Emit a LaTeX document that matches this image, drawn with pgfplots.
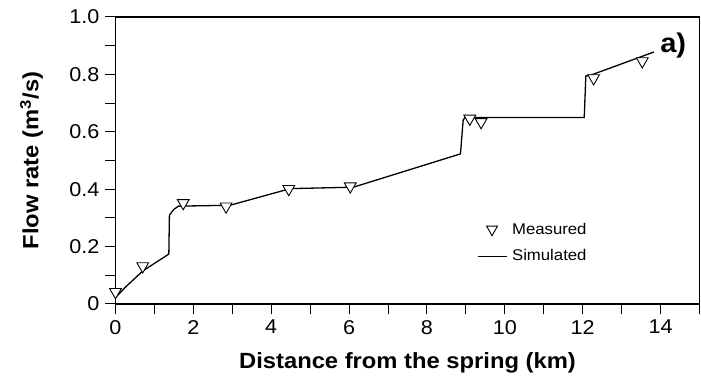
\documentclass[border=0pt]{standalone}
\usepackage{fontspec}
\setmainfont{Liberation Sans}[FakeStretch=1.08]
\usepackage{pgfplots}
\pgfplotsset{compat=1.18}
\begin{document}
\begin{tikzpicture}
\begin{axis}[
  scale only axis, width=584pt, height=287pt,
  xmin=0, xmax=15, ymin=0, ymax=1,
  xtick={0,2,...,14}, minor xtick={1,3,...,15},
  ytick={0,0.2,0.4,0.6,0.8,1.0}, minor ytick={0.1,0.3,0.5,0.7,0.9},
  yticklabels={0,0.2,0.4,0.6,0.8,1.0},
  xtick pos=bottom, ytick pos=left, tick align=outside,
  major tick length=10pt, minor tick length=10pt,
  every tick/.style={black, line width=1pt},
  axis line style={line width=1.2pt},
  /pgf/number format/assume math mode=true,
  ticklabel style={font=\fontsize{20}{24}\selectfont},
  xticklabel style={anchor=north, inner sep=0pt, yshift=-6pt},
  yticklabel style={anchor=east, inner sep=0pt, xshift=-6pt},
  xlabel={Distance from the spring (km)},
  ylabel={Flow rate (m\textsuperscript{3}/s)},
  xlabel style={at={(axis description cs:0.5,-0.224)}, anchor=base, font=\fontsize{22}{26}\selectfont\bfseries},
  ylabel style={at={(axis description cs:-0.132,0.5)}, anchor=base, font=\fontsize{22}{26}\selectfont\bfseries},
  legend style={at={(axis cs:9.28,0.29)}, anchor=north west, draw=none, fill=none,
    font=\fontsize{15.5}{18}\selectfont, row sep=10pt, column sep=3pt, inner sep=0pt},
  legend cell align=left,
  reverse legend,
]
\addplot[black, line width=1.3pt, mark=none, legend image code/.code={\draw[black, line width=1.1pt] (0pt,0pt) -- (29pt,0pt);}] coordinates {
  (0.02,0.025) (0.25,0.058) (0.7,0.115) (1.37,0.174) (1.385,0.31) (1.5,0.33) (1.62,0.341)
  (2.94,0.344) (4.49,0.402) (6.11,0.407) (8.86,0.523) (8.93,0.641) (8.98,0.650)
  (12.04,0.650) (12.08,0.794) (12.28,0.801) (13.83,0.878)
};
\addlegendentry{Simulated}
\addplot[only marks, mark=triangle*, mark size=6.8pt,
  mark options={rotate=180, fill=white, draw=black, line width=0.9pt},
  legend image code/.code={\draw[mark=triangle*, mark size=6.3pt, mark options={rotate=180, fill=white, draw=black, line width=0.9pt}] plot coordinates {(14.5pt,0pt)};}] coordinates {
  (0.0,0.042) (0.7,0.132) (1.74,0.352) (2.84,0.340) (4.45,0.401) (6.03,0.410)
  (9.1,0.646) (9.39,0.634) (12.28,0.787) (13.53,0.846)
};
\addlegendentry{Measured}
\node[font=\fontsize{27}{30}\selectfont\bfseries] at (axis description cs:0.955,0.902) {a)};
\end{axis}
\pgfresetboundingbox
\path[use as bounding box] ([xshift=-115.5pt,yshift=-78pt]current axis.south west) rectangle ([xshift=1.5pt,yshift=17pt]current axis.north east);
\end{tikzpicture}
\end{document}
